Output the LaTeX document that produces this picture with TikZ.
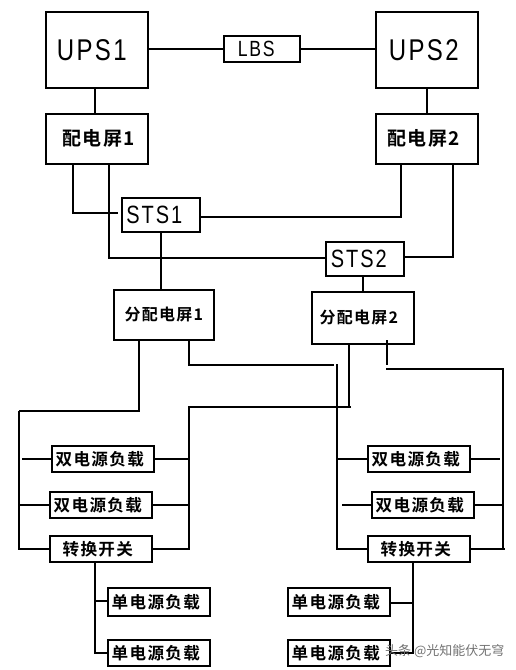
\documentclass[tikz,border=0pt]{standalone}
\usepackage{fontspec}
\newfontfamily\cjk{Noto Sans CJK SC}[BoldFont={* Bold},LetterSpace=8]
\newfontfamily\wm{Noto Sans CJK SC}
\newfontfamily\latin{Liberation Sans}[FakeStretch=0.8,LetterSpace=8]
\tikzset{
  box/.style={draw=black,line width=1.6pt,fill=white,inner sep=0pt,anchor=north west},
  wire/.style={draw=black,line width=1.6pt,line cap=butt},
  bigt/.style={font=\latin\fontsize{30}{32}\selectfont},
  lbst/.style={font=\latin\fontsize{22}{24}\selectfont},
  stst/.style={font=\latin\fontsize{25}{27}\selectfont},
  pdt/.style={font=\cjk\bfseries\fontsize{19}{21}\selectfont},
  fpt/.style={font=\cjk\bfseries\fontsize{16}{18}\selectfont},
  loadt/.style={font=\cjk\bfseries\fontsize{16.6}{19}\selectfont},
}
% #1 name, #2 x0, #3 y0, #4 x1, #5 y1, #6 text style, #7 text
\newcommand{\pbox}[7]{%
  \pgfmathsetmacro{\bw}{#4-#2}\pgfmathsetmacro{\bh}{#5-#3}%
  \node[box,minimum width=\bw pt,minimum height=\bh pt,#6] (#1) at (#2,#3) {\hspace*{-6pt}#7};}
\begin{document}
\begin{tikzpicture}[x=1pt,y=-1pt]
\useasboundingbox (0,0) rectangle (516,670);
\fill[white] (0,0) rectangle (516,670);
\pbox{ups1}{45}{11}{147}{87}{bigt}{\hspace*{-4pt}UPS1}
\pbox{lbs}{223}{35}{299}{61}{lbst}{\hspace*{-5pt}LBS}
\pbox{ups2}{375}{11}{477}{87}{bigt}{UPS2}
\pbox{pd1}{45}{113}{147}{163}{pdt}{\hspace*{10pt}配电屏1}
\pbox{pd2}{375}{113}{477}{163}{pdt}{配电屏2}
\pbox{sts1}{121}{197}{199}{231}{stst}{\hspace*{-7pt}STS1}
\pbox{sts2}{325}{241}{403}{275}{stst}{\hspace*{-6pt}STS2}
\pbox{fp1}{113}{289}{213}{339}{fpt}{\hspace*{6pt}分配电屏1}
\pbox{fp2}{311}{291}{413}{343}{fpt}{\hspace*{-2pt}分配电屏2}
\pbox{dl1}{51}{445}{153}{471}{loadt}{双电源负载}
\pbox{dl2}{49}{491}{151}{517}{loadt}{双电源负载}
\pbox{swl}{49}{535}{151}{561}{loadt}{转换开关}
\pbox{sl1}{107}{587}{209}{615}{loadt}{单电源负载}
\pbox{sl2}{107}{639}{209}{665}{loadt}{单电源负载}
\pbox{dr1}{367}{445}{469}{471}{loadt}{双电源负载}
\pbox{dr2}{371}{491}{473}{517}{loadt}{双电源负载}
\pbox{swr}{367}{535}{469}{561}{loadt}{转换开关}
\pbox{sr1}{287}{587}{389}{615}{loadt}{单电源负载}
\pbox{sr2}{287}{639}{389}{665}{loadt}{单电源负载}
% free ends
\coordinate (a1) at (118,213);
\coordinate (a2) at (22,459);
\coordinate (a3) at (334,365);
\coordinate (a4) at (342,505);
\coordinate (a5) at (500,459);
\coordinate (a6) at (387,340);
\coordinate (a7) at (386,369);
\coordinate (a8) at (351,407);
\coordinate (a9) at (337,364);
\coordinate (a10) at (19,411);
\coordinate (a11) at (387,365);
% top
\draw[wire] (147,49 |- lbs.west) -- (lbs.west);
\draw[wire] (lbs.east) -- (375,49 |- lbs.east);
\draw[wire] (95,0 |- ups1.south) -- (95,0 |- pd1.north);
\draw[wire] (427,0 |- ups2.south) -- (427,0 |- pd2.north);
% distribution to STS
\draw[wire] (73,0 |- pd1.south) |- (a1);
\draw[wire] (109,0 |- pd1.south) |- (sts2.west |- 0,258);
\draw[wire] (sts1.east |- 0,217) -| (401,0 |- pd2.south);
\draw[wire] (sts2.east |- 0,257) -| (453,0 |- pd2.south);
\draw[wire] (161,0 |- sts1.south) -- (161,0 |- fp1.north);
\draw[wire] (363,0 |- sts2.south) -- (363,0 |- fp2.north);
% left load bus A
\draw[wire] (139,0 |- fp1.south) |- (a10);
\draw[wire] (a10) |- (swl.west |- 0,549);
\draw[wire] (a2) -- (dl1.west |- a2);
\draw[wire] (19,505) -- (dl2.west |- 0,505);
% right load bus A
\draw[wire] (189,0 |- fp1.south) |- (a3);
\draw[wire] (a9) |- (swr.west |- 0,549);
\draw[wire] (337,459) -- (dr1.west |- 0,459);
\draw[wire] (a4) -- (dr2.west |- a4);
% left load bus B
\draw[wire] (349,0 |- fp2.south) -- (349,407);
\draw[wire] (a8) -- (189,407) |- (swl.east |- 0,549);
\draw[wire] (dl1.east |- 0,459) -- (189,459);
\draw[wire] (dl2.east |- 0,505) -- (189,505);
% right load bus B
\draw[wire] (a6) -- (a11);
\draw[wire] (a7) -- (503,369) -- (503,549);
\draw[wire] (dr1.east |- a5) -- (a5);
\draw[wire] (dr2.east |- 0,505) -- (503,505);
\draw[wire] (swr.east |- 0,549) -- (505,549);
% single loads
\draw[wire] (95,0 |- swl.south) |- (sl2.west |- 0,653);
\draw[wire] (95,601) -- (sl1.west |- 0,601);
\draw[wire] (413,0 |- swr.south) |- (sr2.east |- 0,653);
\draw[wire] (413,603) -- (sr1.east |- 0,603);
% watermark
\node[font=\wm\fontsize{13}{14}\selectfont,text=black!55,inner sep=0pt,anchor=west] (wmk) at (385,651) {头条 @光知能伏无穹};
\end{tikzpicture}
\end{document}
